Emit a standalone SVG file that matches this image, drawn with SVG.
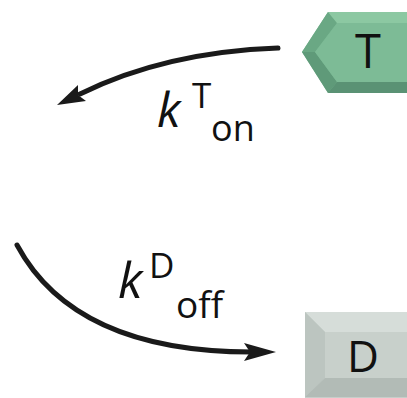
<svg xmlns="http://www.w3.org/2000/svg" width="407" height="398" viewBox="0 0 407 398">
  <style>
    .lbl { font-family: "Open Sans", "Noto Sans", "Liberation Sans", sans-serif; fill: #111; }
    .conn { fill: none; stroke: #1a1a1a; stroke-width: 5; stroke-linecap: round; }
    .head { fill: #1a1a1a; }
  </style>

  <!-- T node: left-pointing bevelled tag -->
  <g id="node-T">
    <polygon points="302,52 328,12 407,12 407,93 328,93" fill="#74b48e"/>
    <polygon points="302,52 328,12 337,23 315,52" fill="#6aa884"/>
    <polygon points="328,12 407,12 407,23 337,23" fill="#8cc8a2"/>
    <polygon points="302,52 315,52 337,82 328,93" fill="#5f9a79"/>
    <polygon points="337,82 407,82 407,93 328,93" fill="#5a9274"/>
    <polygon points="315,52 337,23 407,23 407,82 337,82" fill="#7dbb96"/>
    <text class="lbl" x="368" y="68" font-size="47" text-anchor="middle">T</text>
  </g>

  <!-- D node: bevelled block -->
  <g id="node-D">
    <rect x="305" y="312" width="102" height="86" fill="#c6ceca"/>
    <polygon points="305,312 407,312 407,332 325,332" fill="#d6ddd9"/>
    <polygon points="305,312 325,332 325,378 305,397" fill="#bcc5c0"/>
    <polygon points="305,397 325,378 407,378 407,397" fill="#b2bbb6"/>
    <rect x="325" y="332" width="82" height="46" fill="#c8d0cb"/>
    <text class="lbl" x="363" y="372" font-size="44" text-anchor="middle">D</text>
  </g>

  <!-- rate connectors -->
  <g id="connectors">
    <path class="conn" d="M278,48 Q165,52 80,94"/>
    <path class="head" d="M57,105 L78,85 L78,95 L86,101 Z"/>
    <path class="conn" d="M17,245 C60,325 150,352 252,352"/>
    <path class="head" d="M276,352 L244,343 L250,352 L244,361 Z"/>
  </g>

  <!-- rate labels -->
  <g id="labels">
    <text class="lbl" x="157" y="127" font-size="48" font-style="italic">k</text>
    <text class="lbl" x="192" y="108" font-size="35">T</text>
    <text class="lbl" x="211" y="141" font-size="36">on</text>
    <text class="lbl" x="118" y="298" font-size="50" font-style="italic">k</text>
    <text class="lbl" x="149" y="278" font-size="35">D</text>
    <text class="lbl" x="176" y="318" font-size="37">off</text>
  </g>
</svg>
